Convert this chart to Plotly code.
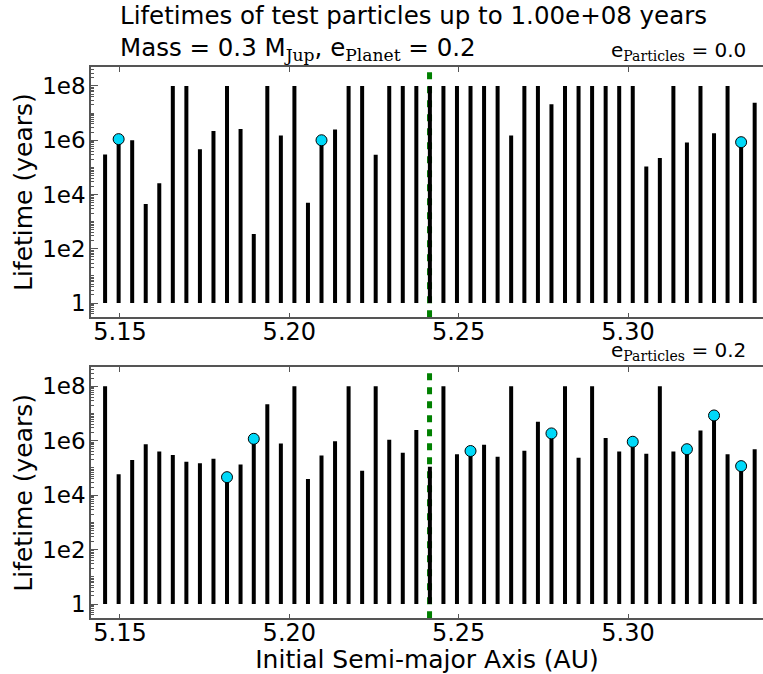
import plotly.graph_objects as go

# ---- data ----
semi_major_axis = [5.1456, 5.1496, 5.1536, 5.1576, 5.1616, 5.1656, 5.1696, 5.1736, 5.1776, 5.1816,
                   5.1856, 5.1895, 5.1935, 5.1975, 5.2015, 5.2055, 5.2095, 5.2135, 5.2175, 5.2215,
                   5.2255, 5.2295, 5.2335, 5.2375, 5.2415, 5.2455, 5.2495, 5.2535, 5.2575, 5.2615,
                   5.2655, 5.2694, 5.2734, 5.2774, 5.2814, 5.2854, 5.2894, 5.2934, 5.2974, 5.3014,
                   5.3054, 5.3094, 5.3134, 5.3174, 5.3214, 5.3254, 5.3294, 5.3334, 5.3374]

lifetime_e00 = [3.0e5, 1.1e6, 1.0e6, 4.5e3, 2.6e4, 1e8, 1e8, 4.7e5, 2.2e6, 1e8,
                2.6e6, 3.5e2, 1e8, 1.5e6, 1e8, 5.0e3, 1.0e6, 2.5e6, 1e8, 1e8,
                2.9e5, 1e8, 1e8, 1e8, 1e8, 1e8, 1e8, 1e8, 1e8, 1e8,
                1.5e6, 1e8, 1e8, 2.1e7, 1e8, 1e8, 1e8, 1e8, 1e8, 1e8,
                1.07e5, 2.2e5, 1e8, 8.2e5, 1e8, 1.8e6, 1e8, 8.5e5, 2.4e7]

lifetime_e02 = [1e8, 5.9e4, 1.95e5, 7.5e5, 4.0e5, 3.0e5, 1.7e5, 1.5e5, 2.2e5, 4.6e4,
                1.35e5, 1.18e6, 2.2e7, 8.0e5, 1e8, 3.9e4, 2.9e5, 9.5e5, 1e8, 7.9e4,
                1e8, 1.1e6, 3.6e5, 2.5e6, 1.1e5, 1e8, 3.2e5, 4.2e5, 7.1e5, 2.6e5,
                1e8, 4.3e5, 5.0e6, 1.86e6, 1e8, 2.4e5, 1e8, 1.26e6, 4.0e5, 9.2e5,
                3.3e5, 1e8, 4.0e5, 4.9e5, 2.4e6, 8.5e6, 3.2e5, 1.17e5, 4.9e5]

marked_e00 = [1, 16, 47]                       # indices with cyan markers
marked_e02 = [9, 11, 27, 33, 39, 43, 45, 47]

planet_a = 5.2414
y_tickvals = [1, 1e2, 1e4, 1e6, 1e8]
y_ticktext = ["1", "1e2", "1e4", "1e6", "1e8"]
x_tickvals = [5.15, 5.20, 5.25, 5.30]
x_ticktext = ["5.15", "5.20", "5.25", "5.30"]
x_range = [5.14144, 5.33986]
y_range_log = [-0.523, 8.699]
lifetime_floor = 1

minor_vals = []
for k in range(-1, 9):
    for m in range(1, 10):
        v = m * 10 ** k
        if 0.3 <= v <= 5e8 and not (m == 1 and k % 2 == 0):
            minor_vals.append(v)

FONT = "DejaVu Sans"
SERIF = "DejaVu Serif"

W, H = 763.0, 674.0
ML = 91.0
def px(x):
    return (x - ML) / (W - ML)
def py(y):
    return 1 - y / H

fig = go.Figure()

def add_panel(values, marked, xa, ya):
    bx, by = [], []
    for a, v in zip(semi_major_axis, values):
        bx += [a, a, None]
        by += [lifetime_floor, v, None]
    fig.add_trace(go.Scatter(x=bx, y=by, mode="lines", xaxis=xa, yaxis=ya,
                             line=dict(color="black", width=4), hoverinfo="skip",
                             showlegend=False))
    fig.add_trace(go.Scatter(x=[semi_major_axis[i] for i in marked],
                             y=[values[i] for i in marked], mode="markers",
                             xaxis=xa, yaxis=ya, showlegend=False,
                             marker=dict(color="#00d9f9", size=11,
                                         line=dict(color="black", width=1))))
    fig.add_shape(type="line", xref=xa, yref=ya + " domain", x0=planet_a, x1=planet_a,
                  y0=0, y1=1, layer="below",
                  line=dict(color="#008000", width=5, dash="7px,7px"))

add_panel(lifetime_e00, marked_e00, "x", "y")
add_panel(lifetime_e02, marked_e02, "x2", "y2")

axis_line = "#555555"
xcommon = dict(range=x_range, tickvals=x_tickvals, ticktext=x_ticktext,
               ticks="inside", ticklen=5, tickcolor=axis_line, showline=True,
               linecolor=axis_line, linewidth=1.5, mirror="ticks", showgrid=False,
               zeroline=False, ticklabelstandoff=-8,
               tickfont=dict(family=FONT, size=24, color="black"))
ycommon = dict(type="log", range=y_range_log, tickvals=y_tickvals, ticktext=y_ticktext,
               ticks="inside", ticklen=7, tickcolor=axis_line, showline=True,
               linecolor=axis_line, linewidth=1.5, mirror=False, showgrid=False,
               zeroline=False, ticklabelstandoff=-1,
               tickfont=dict(family=FONT, size=23, color="black"),
               minor=dict(tickvals=minor_vals, ticks="inside", ticklen=3,
                          tickcolor=axis_line, showgrid=False),
               title=dict(text="Lifetime (years)", font=dict(family=FONT, size=25, color="black"),
                          standoff=2),
               automargin=False)

fig.update_layout(
    width=763, height=674,
    margin=dict(l=91, r=0, t=0, b=0),
    paper_bgcolor="white", plot_bgcolor="white",
    xaxis=dict(anchor="y", **xcommon),
    yaxis=dict(domain=[py(317.3), py(67)], anchor="x", **ycommon),
    xaxis2=dict(anchor="y2", title=dict(text="Initial Semi-major Axis (AU)", standoff=2,
                                        font=dict(family=FONT, size=25, color="black")),
                **xcommon),
    yaxis2=dict(domain=[py(618.3), py(367.3)], anchor="x2", **ycommon),
)
fig.update_xaxes(automargin=False)

sub = lambda s: "<sub><span style=\"font-family:'%s'\">%s</span></sub>" % (SERIF, s)

title_text = ("Lifetimes of test particles up to 1.00e+08 years<br>"
              "Mass = 0.3 M" + sub("Jup") + ", e" + sub("Planet") + " = 0.2")
fig.add_annotation(text=title_text, xref="paper", yref="paper", x=px(119), y=py(33),
                   xanchor="left", yanchor="middle", align="left", showarrow=False,
                   borderpad=0, font=dict(family=FONT, size=24.5, color="black"))

for ytop, val in [(67, "0.0"), (367.3, "0.2")]:
    fig.add_annotation(text="e" + sub("Particles") + " = " + val, xref="paper", yref="paper",
                       x=px(748), y=py(ytop - 1), xanchor="right", yanchor="bottom",
                       showarrow=False, font=dict(family=FONT, size=20, color="black"))

fig.write_html("out.html")
